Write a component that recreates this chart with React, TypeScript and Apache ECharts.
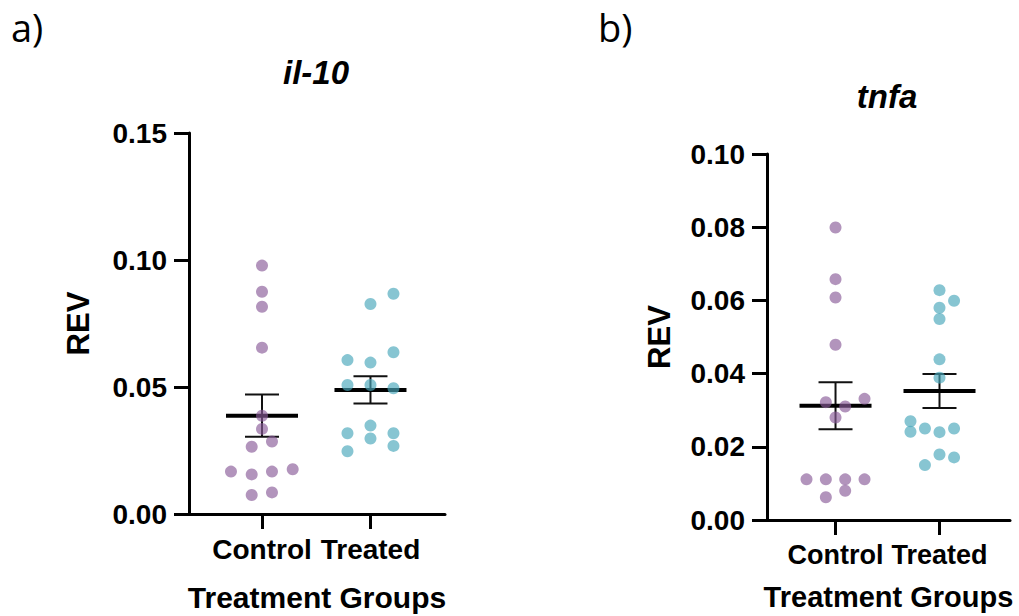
import React, { useEffect, useRef } from "react";
import * as echarts from "echarts";

// ---------- data ----------
const categories = ["Control", "Treated"];

// panel a) il-10
const il10Control = [0.0978, 0.0875, 0.0816, 0.0655, 0.0387, 0.0335, 0.0265, 0.0285, 0.0167, 0.0156, 0.0167, 0.0176, 0.0075, 0.0085];
const il10ControlJitter = [0, 0, 0, 0, 0, 0, -0.095, 0.092, -0.286, -0.095, 0.092, 0.283, -0.095, 0.092];
const il10Treated = [0.0867, 0.0827, 0.0637, 0.0606, 0.0596, 0.0508, 0.0508, 0.0495, 0.0348, 0.0318, 0.0318, 0.0297, 0.0268, 0.0247];
const il10TreatedJitter = [0.212, 0, 0.212, -0.212, 0, -0.212, 0, 0.212, 0, -0.212, 0.212, 0, 0.212, -0.212];

// panel b) tnfa
const tnfaControl = [0.0799, 0.0658, 0.0608, 0.0479, 0.0331, 0.0322, 0.031, 0.028, 0.0111, 0.0111, 0.0111, 0.0111, 0.008, 0.0062];
const tnfaControlJitter = [0, 0, 0, 0, 0.279, -0.093, 0.093, 0, -0.279, -0.093, 0.093, 0.279, 0.093, -0.093];
const tnfaTreated = [0.0628, 0.0599, 0.058, 0.0549, 0.0439, 0.0389, 0.027, 0.0241, 0.025, 0.024, 0.025, 0.0179, 0.0171, 0.015];
const tnfaTreatedJitter = [0, 0.14, 0, 0, 0, 0, -0.279, -0.279, -0.14, 0, 0.14, 0, 0.14, -0.14];

const il10Ticks = [0, 0.05, 0.1, 0.15];
const tnfaTicks = [0, 0.02, 0.04, 0.06, 0.08, 0.1];

// ---------- helpers ----------
const FONT = "Liberation Sans, Arial, sans-serif";
const PURPLE = "rgba(138, 92, 152, 0.82)";
const TEAL = "rgba(72, 166, 186, 0.82)";

function stats(v: number[]) {
  const n = v.length;
  const m = v.reduce((a, b) => a + b, 0) / n;
  const sd = Math.sqrt(v.reduce((a, b) => a + (b - m) * (b - m), 0) / (n - 1));
  const se = sd / Math.sqrt(n);
  return [m, m - se, m + se];
}

function pts(vals: number[], jit: number[], g: number) {
  return vals.map((v, i) => [g + jit[i], v]);
}

const renderMeanSem = (params: any, api: any) => {
  const x = api.value(0);
  const pm = api.coord([x, api.value(1)]);
  const plo = api.coord([x, api.value(2)]);
  const phi = api.coord([x, api.value(3)]);
  const hw = 36;
  const cw = 17;
  const s = { stroke: "#111", lineWidth: 2 };
  return {
    type: "group",
    children: [
      { type: "line", shape: { x1: pm[0], y1: plo[1], x2: pm[0], y2: phi[1] }, style: s },
      { type: "line", shape: { x1: pm[0] - cw, y1: plo[1], x2: pm[0] + cw, y2: plo[1] }, style: s },
      { type: "line", shape: { x1: pm[0] - cw, y1: phi[1], x2: pm[0] + cw, y2: phi[1] }, style: s },
      { type: "line", shape: { x1: pm[0] - hw, y1: pm[1], x2: pm[0] + hw, y2: pm[1] }, style: { stroke: "#000", lineWidth: 4 } },
    ],
  };
};

function xAxisCfg(gridIndex: number, min: number, max: number, nameGap: number, labelSize: number, nameSize: number) {
  return {
    type: "value",
    gridIndex,
    min,
    max,
    splitLine: { show: false },
    axisLine: { show: true, onZero: false, lineStyle: { color: "#000", width: 3 } },
    axisTick: { show: true, customValues: [0, 1], length: 15, lineStyle: { color: "#000", width: 3 } },
    axisLabel: {
      customValues: [0, 1],
      hideOverlap: false,
      formatter: (v: number) => categories[Math.round(v)] ?? "",
      color: "#000",
      fontFamily: FONT,
      fontWeight: "bold",
      fontSize: labelSize,
      margin: 21,
    },
    name: "Treatment Groups",
    nameLocation: "middle",
    nameGap,
    nameTextStyle: { color: "#000", fontFamily: FONT, fontWeight: "bold", fontSize: nameSize },
  };
}

function yAxisCfg(gridIndex: number, ticks: number[], nameGap: number) {
  return {
    type: "value",
    gridIndex,
    min: ticks[0],
    max: ticks[ticks.length - 1],
    interval: ticks[1] - ticks[0],
    splitLine: { show: false },
    axisLine: { show: true, onZero: false, lineStyle: { color: "#000", width: 3 } },
    axisTick: { show: true, length: 15, lineStyle: { color: "#000", width: 3 } },
    axisLabel: {
      formatter: (v: number) => v.toFixed(2),
      color: "#000",
      fontFamily: FONT,
      fontWeight: "bold",
      fontSize: 28,
      margin: 22,
    },
    name: "REV",
    nameLocation: "middle",
    nameRotate: 90,
    nameGap,
    nameTextStyle: { color: "#000", fontFamily: FONT, fontWeight: "bold", fontSize: 31 },
  };
}

export default function App() {
  const ref = useRef<HTMLDivElement>(null);
  useEffect(() => {
    if (!ref.current) return;
    const chart = echarts.init(ref.current, undefined, { renderer: "svg" });
    const a0 = stats(il10Control);
    const a1 = stats(il10Treated);
    const b0 = stats(tnfaControl);
    const b1 = stats(tnfaTreated);
    chart.setOption({
      animation: false,
      backgroundColor: "#fff",
      grid: [
        { left: 189, top: 133, width: 256, height: 381, containLabel: false, outerBoundsMode: "none" },
        { left: 767, top: 154, width: 243, height: 366, containLabel: false, outerBoundsMode: "none" },
      ],
      xAxis: [xAxisCfg(0, -0.673, 1.687, 68, 28, 30), xAxisCfg(1, -0.659, 1.678, 62, 27, 29)],
      yAxis: [yAxisCfg(0, il10Ticks, 95), yAxisCfg(1, tnfaTicks, 92)],
      graphic: [
        { type: "text", left: 11, top: 8, style: { text: "a)", font: "normal 38px 'Open Sans', sans-serif", fill: "#000" } },
        { type: "text", left: 598, top: 8, style: { text: "b)", font: "normal 38px 'Open Sans', sans-serif", fill: "#000" } },
        { type: "text", x: 316, y: 72, style: { text: "il-10", font: "italic bold 33px 'Liberation Sans', Arial, sans-serif", fill: "#000", textAlign: "center", textVerticalAlign: "middle" } },
        { type: "text", x: 887, y: 96, style: { text: "tnfa", font: "italic bold 33px 'Liberation Sans', Arial, sans-serif", fill: "#000", textAlign: "center", textVerticalAlign: "middle" } },
      ],
      series: [
        {
          type: "custom",
          xAxisIndex: 0,
          yAxisIndex: 0,
          renderItem: renderMeanSem,
          data: [[0, ...a0], [1, ...a1]],
          z: 1,
        },
        { type: "scatter", xAxisIndex: 0, yAxisIndex: 0, data: pts(il10Control, il10ControlJitter, 0), symbolSize: 12, itemStyle: { color: PURPLE }, z: 3 },
        { type: "scatter", xAxisIndex: 0, yAxisIndex: 0, data: pts(il10Treated, il10TreatedJitter, 1), symbolSize: 12, itemStyle: { color: TEAL }, z: 3 },
        {
          type: "custom",
          xAxisIndex: 1,
          yAxisIndex: 1,
          renderItem: renderMeanSem,
          data: [[0, ...b0], [1, ...b1]],
          z: 1,
        },
        { type: "scatter", xAxisIndex: 1, yAxisIndex: 1, data: pts(tnfaControl, tnfaControlJitter, 0), symbolSize: 12, itemStyle: { color: PURPLE }, z: 3 },
        { type: "scatter", xAxisIndex: 1, yAxisIndex: 1, data: pts(tnfaTreated, tnfaTreatedJitter, 1), symbolSize: 12, itemStyle: { color: TEAL }, z: 3 },
      ],
    });
    return () => chart.dispose();
  }, []);
  return <div ref={ref} style={{ position: "fixed", left: 0, top: 0, width: 1019, height: 616 }} />;
}
